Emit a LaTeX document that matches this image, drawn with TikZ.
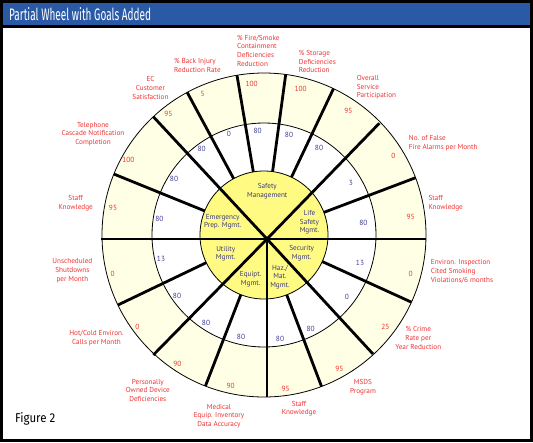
\documentclass[tikz,border=0pt]{standalone}
\usepackage{fontspec}
\usepackage{graphicx}
\setmainfont{PT Sans}
\newfontfamily\titlefont{Fira Sans}
\usetikzlibrary{calc}
\definecolor{titleblue}{RGB}{42,90,166}
\definecolor{labred}{RGB}{240,50,50}
\definecolor{valblue}{RGB}{64,64,154}
\definecolor{innerblue}{RGB}{58,58,128}
\definecolor{hubyellow}{RGB}{255,250,130}
\definecolor{ringcream}{RGB}{255,255,229}
\begin{document}
\begin{tikzpicture}[x=1pt,y=-1pt,
  spoke/.style={line width=2.8pt},
  ringline/.style={line width=0.8pt},
  goal/.style={text=labred,font=\fontsize{7.2}{8.8}\selectfont,inner sep=0pt},
  goalL/.style={goal,align=left,anchor=west},
  goalC/.style={goal,align=center},
  target/.style={text=labred,font=\fontsize{7.4}{9}\selectfont,inner sep=0pt},
  val/.style={text=valblue,font=\fontsize{7.4}{9}\selectfont,inner sep=0pt},
  area/.style={text=innerblue,font=\fontsize{7.2}{8.8}\selectfont,inner sep=0pt,align=center}
]
% frame
\fill[black] (0,0) rectangle (533,442);
\fill[titleblue] (3,3) rectangle (530,25);
\fill[white] (3,28) rectangle (530,439);
\useasboundingbox (0,0) rectangle (533,442);
\node[anchor=base west,inner sep=0pt,text=white] (title) at (9,20.3)
  {\resizebox{142pt}{13pt}{\titlefont Partial Wheel with Goals Added}};
\node[anchor=base west,inner sep=0pt,text=black] (fig) at (15,422)
  {\resizebox{40pt}{10pt}{\titlefont Figure 2}};

% wheel
\coordinate (C) at (264,235);
\coordinate (H) at (267,239);
\fill[ringcream] (C) circle[radius=162pt];
\fill[white] (C) circle[radius=112pt];
\fill[hubyellow] (C) circle[radius=64pt];
\draw[ringline] (C) circle[radius=162pt];
\draw[ringline] (C) circle[radius=112pt];
\draw[ringline] (C) circle[radius=64pt];

% spokes in the two rings only
\foreach \a in {99.6,82.3,64.6,20.7,-24.5,-69.2,-111.2,-154.4,157.9,118.3}
  \draw[spoke] ($(C)+(\a:64pt)$) -- ($(C)+(\a:162pt)$);
% spokes through the hub
\coordinate (oL) at (101,239);
\coordinate (oR) at (426,239);
\coordinate (oNE) at (379.3,123.3);
\coordinate (oSE) at (373,354);
\coordinate (oS) at (267,397);
\coordinate (oSW) at (153.3,355);
\coordinate (oNW) at (153.3,116.7);
\draw[spoke] (oL) -- (oR);
\draw[spoke] (oNE) -- (H);
\draw[spoke] (oSE) -- (H);
\draw[spoke] (oS) -- (H);
\draw[spoke] (oSW) -- (H);
\draw[spoke] (oNW) -- (H);

% hub areas
\node[area] (a1) at (267.3,191.5) {Safety\\Management};
\node[area] (a2) at (222.7,221.8) {Emergency\\Prep. Mgmt.};
\node[area] (a3) at (309.5,222.3) {Life\\Safety\\Mgmt.};
\node[area] (a4) at (225.7,253.8) {Utility\\Mgmt.};
\node[area] (a5) at (301.7,253.2) {Security\\Mgmt.};
\node[area] (a6) at (250.7,279.5) {Equipt.\\Mgmt.};
\node[area] (a7) at (280,277) {Haz./\\Mat.\\Mgmt.};

% middle ring values
\node[val] (m1) at (257.7,130.7) {80};
\node[val] (m2) at (289,135) {80};
\node[val] (m3) at (319,148.3) {80};
\node[val] (m4) at (351,183) {3};
\node[val] (m5) at (363.3,223.3) {80};
\node[val] (m6) at (360,263) {13};
\node[val] (m7) at (347,297) {0};
\node[val] (m8) at (310.7,329.3) {80};
\node[val] (m9) at (280,339) {80};
\node[val] (m10) at (241,336.7) {80};
\node[val] (m11) at (206,323) {80};
\node[val] (m12) at (177,296) {80};
\node[val] (m13) at (161,259) {13};
\node[val] (m14) at (159.3,219) {80};
\node[val] (m15) at (174,179.3) {80};
\node[val] (m16) at (201.7,149) {80};
\node[val] (m17) at (229,134) {0};

% outer ring targets
\node[target] (t1) at (251.7,84.3) {100};
\node[target] (t2) at (300.7,89) {100};
\node[target] (t3) at (348.3,110.7) {95};
\node[target] (t4) at (393.3,155.7) {0};
\node[target] (t5) at (410.7,217.3) {95};
\node[target] (t6) at (410.7,274) {0};
\node[target] (t7) at (385.3,327.3) {25};
\node[target] (t8) at (339.3,369.3) {95};
\node[target] (t9) at (285.7,388.7) {95};
\node[target] (t10) at (230.7,386) {90};
\node[target] (t11) at (177.3,363.7) {90};
\node[target] (t12) at (137.3,327.3) {0};
\node[target] (t13) at (112.7,274.3) {0};
\node[target] (t14) at (113,208.3) {95};
\node[target] (t15) at (128.3,160.3) {100};
\node[target] (t16) at (168.3,114.3) {95};
\node[target] (t17) at (202.7,93.7) {5};

% goal labels
\node[goalL] (g1) at (237,50.8) {\% Fire/Smoke\\Containment\\Deficiencies\\Reduction};
\node[goalL] (g2) at (298.7,61.5) {\% Storage\\Deficiencies\\Reduction};
\node[goalL] (g3) at (356.7,87.3) {Overall\\Service\\Participation};
\node[goalL] (g4) at (408.7,143) {No. of False\\Fire Alarms per Month};
\node[goalL] (g5) at (428.3,203.5) {Staff\\Knowledge};
\node[goalL] (g6) at (430.7,271.2) {Environ. Inspection\\Cited Smoking\\Violations/6 months};
\node[goalC] (g7) at (418.3,337.8) {\% Crime\\Rate per\\Year Reduction};
\node[goalC] (g8) at (363,386.8) {MSDS\\Program};
\node[goalC] (g9) at (299,408.7) {Staff\\Knowledge};
\node[goalC] (g10) at (219,416) {Medical\\Equip. Inventory\\Data Accuracy};
\node[goalC] (g11) at (147.8,390.3) {Personally\\Owned Device\\Deficiencies};
\node[goalC] (g12) at (96.5,338.2) {Hot/Cold Environ.\\Calls per Month};
\node[goalC] (g13) at (72.4,270.5) {Unscheduled\\Shutdowns\\per Month};
\node[goalC] (g14) at (75.7,202.8) {Staff\\Knowledge};
\node[goalC] (g15) at (93,134) {Telephone\\Cascade Notification\\Completion};
\node[goalC] (g16) at (150.5,88.2) {EC\\Customer\\Satisfaction};
\node[goalL] (g17) at (174,65.7) {\% Back Injury\\Reduction Rate};
\end{tikzpicture}
\end{document}
